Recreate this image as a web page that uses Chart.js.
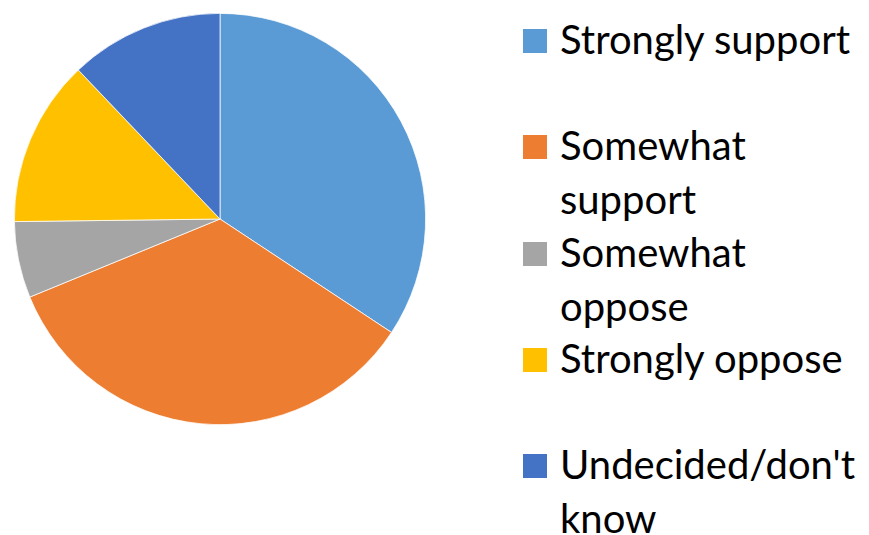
<!DOCTYPE html>
<html>
<head>
<meta charset="utf-8">
<script src="https://cdn.jsdelivr.net/npm/chart.js@4/dist/chart.umd.min.js"></script>
<style>
  html, body { margin: 0; padding: 0; background: #fff; }
  #wrap { position: relative; width: 869px; height: 535px; overflow: hidden; }
  #pieBox { position: absolute; left: 14px; top: 13px; width: 412px; height: 412px; }
  #legend { position: absolute; left: 0; top: 0; }
  .item { position: absolute; left: 523px; width: 346px; }
  .swatch { position: absolute; left: 0; top: 0; width: 24px; height: 24px; }
  .text {
    position: absolute; left: 37px; width: 306px;
    font-family: Lato, "Open Sans", sans-serif; font-size: 40px; line-height: 54px;
    color: #000; white-space: normal;
  }
</style>
</head>
<body>
<div id="wrap">
  <div id="pieBox"><canvas id="pie"></canvas></div>
  <div id="legend"></div>
</div>
<script>
// categories and values (percent)
const categories = ['Strongly support', 'Somewhat support', 'Somewhat oppose', 'Strongly oppose', "Undecided/don't know"];
const shares = [34.3, 34.5, 6.0, 13.1, 12.1];
const colors = ['#5B9BD5', '#ED7D31', '#A5A5A5', '#FFC000', '#4472C4'];

const chart = new Chart(document.getElementById('pie'), {
    type: 'pie',
    data: {
        labels: categories,
        datasets: [{
            data: shares,
            backgroundColor: colors,
            borderColor: '#ffffff',
            borderWidth: 0.75
        }]
    },
    options: {
        responsive: true,
        maintainAspectRatio: false,
        animation: false,
        layout: { padding: 0 },
        plugins: {
            legend: { display: false },
            tooltip: { enabled: false }
        }
    }
});

// html legend, one block per category (two lines tall each)
const legend = document.getElementById('legend');
categories.forEach((label, i) => {
    const item = document.createElement('div');
    item.className = 'item';
    item.style.top = (29 + i * 106.3) + 'px';
    item.innerHTML = `
      <div class="swatch" style="background:${colors[i]}"></div>
      <div class="text" style="top:-17px">${label}</div>
    `;
    legend.appendChild(item);
});
</script>
</body>
</html>
